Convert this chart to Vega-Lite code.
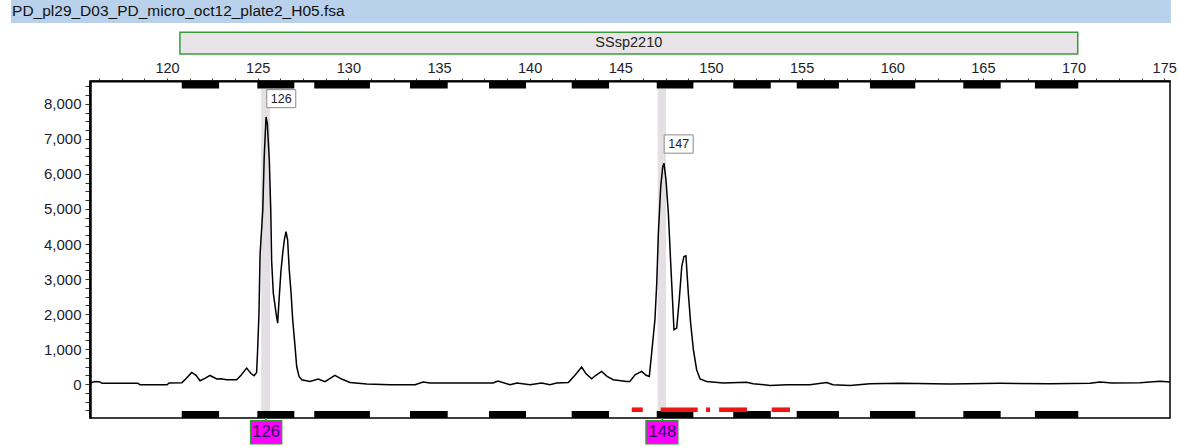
{
  "$schema": "https://vega.github.io/schema/vega-lite/v6.json",
  "width": 1080,
  "height": 337,
  "autosize": {"type": "none"},
  "padding": {"left": 90, "top": 81, "right": 9, "bottom": 29},
  "background": "white",
  "config": {
    "view": {"stroke": "black", "strokeWidth": 1.5},
    "font": "Liberation Sans"
  },
  "resolve": {"axis": {"x": "independent", "y": "independent"}},
  "datasets": {
    "trace": [
      {"x": 115.75, "y": 30}, {"x": 116.03, "y": 70}, {"x": 116.3, "y": 60}, {"x": 116.41, "y": 20},
      {"x": 118.4, "y": 20}, {"x": 118.51, "y": -20}, {"x": 120.0, "y": -20}, {"x": 120.11, "y": 30},
      {"x": 120.82, "y": 40}, {"x": 121.04, "y": 150}, {"x": 121.36, "y": 330}, {"x": 121.6, "y": 250},
      {"x": 121.82, "y": 95}, {"x": 122.09, "y": 160}, {"x": 122.37, "y": 245}, {"x": 122.74, "y": 145},
      {"x": 122.98, "y": 150}, {"x": 123.29, "y": 125}, {"x": 123.84, "y": 120}, {"x": 124.08, "y": 250},
      {"x": 124.39, "y": 455}, {"x": 124.63, "y": 300}, {"x": 124.8, "y": 235}, {"x": 124.94, "y": 330},
      {"x": 124.99, "y": 900}, {"x": 125.07, "y": 2000}, {"x": 125.13, "y": 3700}, {"x": 125.28, "y": 4970},
      {"x": 125.36, "y": 6500}, {"x": 125.46, "y": 7630}, {"x": 125.53, "y": 7450}, {"x": 125.64, "y": 6400},
      {"x": 125.72, "y": 4970}, {"x": 125.77, "y": 3500}, {"x": 125.86, "y": 2600}, {"x": 126.01, "y": 2030},
      {"x": 126.1, "y": 1740}, {"x": 126.19, "y": 2500}, {"x": 126.28, "y": 3210}, {"x": 126.38, "y": 3740},
      {"x": 126.47, "y": 4120}, {"x": 126.56, "y": 4350}, {"x": 126.65, "y": 4120}, {"x": 126.74, "y": 3260},
      {"x": 126.84, "y": 2600}, {"x": 126.93, "y": 1840}, {"x": 127.06, "y": 1070}, {"x": 127.15, "y": 500},
      {"x": 127.28, "y": 217}, {"x": 127.43, "y": 123}, {"x": 127.88, "y": 75}, {"x": 128.34, "y": 145},
      {"x": 128.71, "y": 70}, {"x": 129.26, "y": 250}, {"x": 129.63, "y": 143}, {"x": 130.09, "y": 46},
      {"x": 131.01, "y": 0}, {"x": 132.3, "y": -20}, {"x": 133.68, "y": -20}, {"x": 134.12, "y": 57},
      {"x": 134.5, "y": 30}, {"x": 137.98, "y": 30}, {"x": 138.25, "y": 86}, {"x": 138.92, "y": -20},
      {"x": 139.3, "y": 30}, {"x": 140.02, "y": -20}, {"x": 140.66, "y": 30}, {"x": 141.12, "y": -20},
      {"x": 141.49, "y": 30}, {"x": 142.13, "y": 46}, {"x": 142.5, "y": 250}, {"x": 142.87, "y": 486},
      {"x": 143.1, "y": 300}, {"x": 143.42, "y": 151}, {"x": 143.65, "y": 250}, {"x": 143.97, "y": 361},
      {"x": 144.27, "y": 220}, {"x": 144.61, "y": 123}, {"x": 145.35, "y": 74}, {"x": 145.53, "y": 74},
      {"x": 145.81, "y": 266}, {"x": 146.18, "y": 361}, {"x": 146.42, "y": 250}, {"x": 146.6, "y": 217},
      {"x": 146.73, "y": 886}, {"x": 146.91, "y": 1840}, {"x": 147.01, "y": 2880}, {"x": 147.1, "y": 4310},
      {"x": 147.23, "y": 5640}, {"x": 147.34, "y": 6210}, {"x": 147.41, "y": 6310}, {"x": 147.52, "y": 5830},
      {"x": 147.65, "y": 4880}, {"x": 147.78, "y": 3450}, {"x": 147.89, "y": 2310}, {"x": 147.96, "y": 1550},
      {"x": 148.11, "y": 1600}, {"x": 148.25, "y": 2400}, {"x": 148.39, "y": 3360}, {"x": 148.51, "y": 3640},
      {"x": 148.62, "y": 3660}, {"x": 148.75, "y": 2600}, {"x": 148.88, "y": 1740}, {"x": 149.03, "y": 980},
      {"x": 149.21, "y": 410}, {"x": 149.4, "y": 143}, {"x": 149.76, "y": 74}, {"x": 150.68, "y": 29},
      {"x": 151.97, "y": 50}, {"x": 152.33, "y": 10}, {"x": 153.26, "y": -40}, {"x": 154.18, "y": -20},
      {"x": 155.46, "y": -20}, {"x": 156.38, "y": 46}, {"x": 156.73, "y": -20}, {"x": 157.67, "y": -40},
      {"x": 158.77, "y": 10}, {"x": 160.43, "y": 20}, {"x": 163.19, "y": 0}, {"x": 165.94, "y": 20},
      {"x": 168.7, "y": 10}, {"x": 170.91, "y": 20}, {"x": 171.46, "y": 60}, {"x": 172.12, "y": 30},
      {"x": 173.66, "y": 40}, {"x": 174.77, "y": 80}, {"x": 175.32, "y": 60}
    ],
    "bins": [
      {"x": 120.81, "x2": 122.87}, {"x": 124.98, "x2": 127.02}, {"x": 128.12, "x2": 131.19},
      {"x": 133.4, "x2": 135.48}, {"x": 137.76, "x2": 139.8}, {"x": 142.32, "x2": 144.38},
      {"x": 147.01, "x2": 149.03}, {"x": 151.23, "x2": 153.3}, {"x": 154.73, "x2": 157.06},
      {"x": 158.77, "x2": 161.27}, {"x": 163.92, "x2": 165.98}, {"x": 167.87, "x2": 170.26}
    ],
    "bands": [
      {"x": 125.19, "x2": 125.68}, {"x": 147.06, "x2": 147.52}
    ],
    "peaks": [
      {"t": "126", "x": 125.5, "x2": 127.1, "y": 8410, "y2": 7895, "xc": 126.3, "yc": 8150},
      {"t": "147", "x": 147.42, "x2": 149.02, "y": 7117, "y2": 6594, "xc": 148.22, "yc": 6855}
    ],
    "calls": [
      {"t": "126", "x": 124.61, "x2": 126.32, "xc": 125.46},
      {"t": "148", "x": 146.42, "x2": 148.17, "xc": 147.32}
    ],
    "dashes": [
      {"x": 145.63, "x2": 146.24}, {"x": 147.23, "x2": 149.27}, {"x": 149.73, "x2": 149.95},
      {"x": 150.45, "x2": 151.99}, {"x": 153.35, "x2": 154.36}
    ],
    "header": [
      {"t": "PD_pl29_D03_PD_micro_oct12_plate2_H05.fsa", "x": 111.39, "x2": 175.37, "xc": 111.45}
    ],
    "marker": [
      {"t": "SSsp2210", "x": 120.71, "x2": 170.23, "xc": 145.47}
    ]
  },
  "layer": [
    {
      "data": {"name": "header"},
      "mark": {"type": "rect", "fill": "#b9d1ea", "clip": false},
      "encoding": {
        "x": {"field": "x", "type": "quantitative", "axis": null},
        "x2": {"field": "x2"},
        "y": {"datum": 11000, "axis": null},
        "y2": {"datum": 10315}
      }
    },
    {
      "data": {"name": "header"},
      "mark": {"type": "text", "align": "left", "baseline": "middle", "fontSize": 15.5, "font": "Liberation Sans", "color": "#111111", "clip": false},
      "encoding": {
        "x": {"field": "xc", "type": "quantitative", "axis": null},
        "y": {"datum": 10650, "axis": null},
        "text": {"field": "t"}
      }
    },
    {
      "data": {"name": "marker"},
      "mark": {"type": "rect", "fill": "#e8e4e8", "stroke": "#3a9a3a", "strokeWidth": 1.5, "clip": false},
      "encoding": {
        "x": {"field": "x", "type": "quantitative", "axis": null},
        "x2": {"field": "x2"},
        "y": {"datum": 10048, "axis": null},
        "y2": {"datum": 9425}
      }
    },
    {
      "data": {"name": "marker"},
      "mark": {"type": "text", "align": "center", "baseline": "middle", "fontSize": 14.5, "font": "Liberation Sans", "color": "#222222", "clip": false},
      "encoding": {
        "x": {"field": "xc", "type": "quantitative", "axis": null},
        "y": {"datum": 9736, "axis": null},
        "text": {"field": "t"}
      }
    },
    {
      "data": {"name": "bands"},
      "mark": {"type": "rect", "fill": "#e3dfe3"},
      "encoding": {
        "x": {"field": "x", "type": "quantitative", "axis": null},
        "x2": {"field": "x2"},
        "y": {"datum": 8430, "axis": null},
        "y2": {"datum": -970}
      }
    },
    {
      "data": {"name": "bins"},
      "mark": {"type": "rect", "fill": "black"},
      "encoding": {
        "x": {"field": "x", "type": "quantitative", "axis": null},
        "x2": {"field": "x2"},
        "y": {"datum": 8656, "axis": null},
        "y2": {"datum": 8440}
      }
    },
    {
      "data": {"name": "bins"},
      "mark": {"type": "rect", "fill": "black"},
      "encoding": {
        "x": {"field": "x", "type": "quantitative", "axis": null},
        "x2": {"field": "x2"},
        "y": {"datum": -770, "axis": null},
        "y2": {"datum": -970}
      }
    },
    {
      "data": {"name": "dashes"},
      "mark": {"type": "rect", "fill": "#f01414"},
      "encoding": {
        "x": {"field": "x", "type": "quantitative", "axis": null},
        "x2": {"field": "x2"},
        "y": {"datum": -668, "axis": null},
        "y2": {"datum": -800}
      }
    },
    {
      "data": {"name": "trace"},
      "mark": {"type": "line", "color": "black", "strokeWidth": 1.5, "interpolate": "linear"},
      "encoding": {
        "x": {
          "field": "x", "type": "quantitative",
          "scale": {"domain": [115.75, 175.32], "nice": false, "zero": false},
          "axis": {
            "orient": "top", "title": null, "grid": false,
            "values": [116.25, 117.5, 118.75, 120, 121.25, 122.5, 123.75, 125, 126.25, 127.5, 128.75, 130, 131.25, 132.5, 133.75, 135, 136.25, 137.5, 138.75, 140, 141.25, 142.5, 143.75, 145, 146.25, 147.5, 148.75, 150, 151.25, 152.5, 153.75, 155, 156.25, 157.5, 158.75, 160, 161.25, 162.5, 163.75, 165, 166.25, 167.5, 168.75, 170, 171.25, 172.5, 173.75, 175],
            "labelExpr": "datum.value % 5 === 0 ? format(datum.value, 'd') : ''",
            "labelFont": "Liberation Sans", "labelFontSize": 14.5, "labelColor": "#1c1c2a",
            "labelBaseline": "alphabetic", "labelPadding": 6, "labelFlush": false, "labelOverlap": false,
            "tickSize": 3, "tickColor": "#333333", "tickWidth": 1,
            "domainColor": "black", "domainWidth": 2
          }
        },
        "y": {
          "field": "y", "type": "quantitative",
          "scale": {"domain": [-970, 8656], "nice": false, "zero": false},
          "axis": {
            "orient": "left", "title": null, "grid": false,
            "values": [-750, -500, -250, 0, 250, 500, 750, 1000, 1250, 1500, 1750, 2000, 2250, 2500, 2750, 3000, 3250, 3500, 3750, 4000, 4250, 4500, 4750, 5000, 5250, 5500, 5750, 6000, 6250, 6500, 6750, 7000, 7250, 7500, 7750, 8000, 8250, 8500],
            "labelExpr": "datum.value % 1000 === 0 ? format(datum.value, ',') : ''",
            "labelFont": "Liberation Sans", "labelFontSize": 15, "labelColor": "#1c1c2a",
            "labelPadding": 4, "labelOverlap": false, "labelFlush": false,
            "tickSize": 5, "tickColor": "#333333", "tickWidth": 1,
            "domainColor": "black", "domainWidth": 2.5
          }
        }
      }
    },
    {
      "data": {"name": "peaks"},
      "mark": {"type": "rect", "fill": "white", "stroke": "#8a8a8a", "strokeWidth": 1},
      "encoding": {
        "x": {"field": "x", "type": "quantitative", "axis": null},
        "x2": {"field": "x2"},
        "y": {"field": "y", "type": "quantitative", "axis": null},
        "y2": {"field": "y2"}
      }
    },
    {
      "data": {"name": "peaks"},
      "mark": {"type": "text", "align": "center", "baseline": "middle", "fontSize": 12.5, "font": "Liberation Sans", "color": "#222222"},
      "encoding": {
        "x": {"field": "xc", "type": "quantitative", "axis": null},
        "y": {"field": "yc", "type": "quantitative", "axis": null},
        "text": {"field": "t"}
      }
    },
    {
      "data": {"name": "calls"},
      "mark": {"type": "rule", "color": "#2f9a2f", "strokeWidth": 1.5, "clip": false},
      "encoding": {
        "x": {"field": "xc", "type": "quantitative", "axis": null},
        "y": {"datum": -970, "axis": null},
        "y2": {"datum": -1048}
      }
    },
    {
      "data": {"name": "calls"},
      "mark": {"type": "rect", "fill": "#ff00ff", "stroke": "#2f9a2f", "strokeWidth": 1.5, "clip": false},
      "encoding": {
        "x": {"field": "x", "type": "quantitative", "axis": null},
        "x2": {"field": "x2"},
        "y": {"datum": -1048, "axis": null},
        "y2": {"datum": -1705}
      }
    },
    {
      "data": {"name": "calls"},
      "mark": {"type": "text", "align": "center", "baseline": "middle", "fontSize": 16.5, "font": "Liberation Sans", "color": "#1e1a5a", "clip": false},
      "encoding": {
        "x": {"field": "xc", "type": "quantitative", "axis": null},
        "y": {"datum": -1380, "axis": null},
        "text": {"field": "t"}
      }
    }
  ]
}
